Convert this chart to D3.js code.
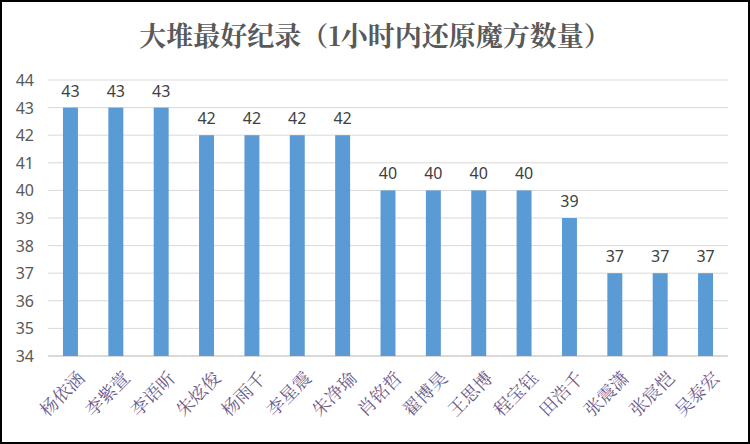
<!DOCTYPE html><html><head><meta charset="utf-8"><script src="https://cdn.jsdelivr.net/npm/d3@7"></script>
<style>body{margin:0;background:#fff}</style></head><body><svg id="c" width="750" height="444"></svg>
<script>
const names=["杨依涵","李紫萱","李语昕","朱炫俊","杨雨千","李星震","朱净瑜","肖铭哲","翟博昊","王思博","程宝钰","田浩千","张震潇","张宸恺","吴泰宏"];
const values=[43,43,43,42,42,42,42,40,40,40,40,39,37,37,37];
const ticks=[34,35,36,37,38,39,40,41,42,43,44];
const svg=d3.select("#c");
svg.append("rect").attr("x",1).attr("y",1).attr("width",748).attr("height",442).attr("fill","#fff").attr("stroke","#000").attr("stroke-width",2);
svg.append("text").attr("x",375).attr("y",46).attr("text-anchor","middle").attr("font-family","Noto Serif CJK SC, Noto Sans CJK SC").attr("font-weight","bold").attr("font-size",27).attr("fill","#595959").text("大堆最好纪录（1小时内还原魔方数量）");
const x=d3.scaleBand().domain(names).range([48,728]).paddingInner(0.67).paddingOuter(0.33);
const y=d3.scaleLinear().domain([34,44]).range([356,80]);
svg.append("g").selectAll("line").data(ticks).join("line").attr("x1",48).attr("x2",728).attr("y1",d=>y(d)).attr("y2",d=>y(d)).attr("stroke","#d9d9d9").attr("stroke-width",d=>d===34?2:1);
svg.append("g").selectAll("text").data(ticks).join("text").attr("x",34).attr("y",d=>y(d)+6).attr("text-anchor","end").attr("font-family","Noto Sans").attr("font-size",16).attr("fill","#595959").text(d=>d);
svg.append("g").selectAll("rect").data(values).join("rect").attr("x",(d,i)=>x(names[i])).attr("width",x.bandwidth()).attr("y",d=>y(d)).attr("height",d=>y(34)-y(d)).attr("fill","#5b9bd5");
svg.append("g").selectAll("text").data(values).join("text").attr("x",(d,i)=>x(names[i])+x.bandwidth()/2).attr("y",d=>y(d)-11).attr("text-anchor","middle").attr("font-family","Noto Sans").attr("font-size",16).attr("fill","#404040").text(d=>d);
svg.append("g").selectAll("text").data(names).join("text").attr("transform",d=>`translate(${x(d)+x.bandwidth()/2+12},376) rotate(-45)`).attr("text-anchor","end").attr("dominant-baseline","middle").attr("font-family","Noto Serif CJK SC, Noto Sans CJK SC").attr("font-size",18).attr("fill","#6a5a8a").text(d=>d);
</script></body></html>
